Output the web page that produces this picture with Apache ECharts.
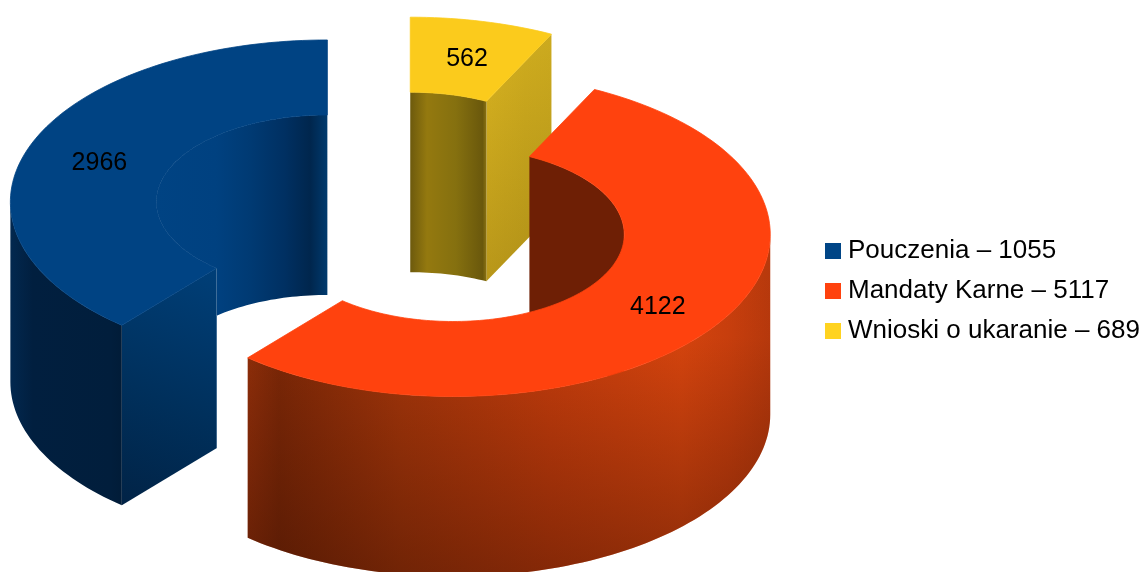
<!DOCTYPE html>
<html><head><meta charset="utf-8">
<style>html,body{margin:0;padding:0;background:#fff}#c{width:1145px;height:572px}</style>
<script src="https://cdn.jsdelivr.net/npm/echarts@6/dist/echarts.min.js"></script>
</head><body><div id="c"></div>
<script>
// Data
var names = ['Pouczenia', 'Mandaty Karne', 'Wnioski o ukaranie'];
var legendValues = [1055, 5117, 689];
var sliceValues = [2966, 4122, 562];
var topColors = ['#004383', '#ff420e', '#fbcb1c'];
var legendColors = ['#004586', '#ff420e', '#ffd320'];

// Projection of the exploded ring
var CX = 394, CY = 214.5, EXPLODE = 71;
var RX = 317, RY = 162, IX = 171, IY = 87, DEPTH = 180, TILT = RY / RX;
var total = sliceValues.reduce(function (a, b) { return a + b; }, 0);
var yellowSpan = sliceValues[2] / total * 360;
var orangeSpan = sliceValues[1] / total * 360;
var blueSpan = sliceValues[0] / total * 360;
// angles are clockwise from the top: yellow, orange, blue
var spans = [
  [yellowSpan + orangeSpan, yellowSpan + orangeSpan + blueSpan],
  [yellowSpan, yellowSpan + orangeSpan],
  [0, yellowSpan]
];
function rad(d) { return d * Math.PI / 180; }
function pt(c, rx, ry, a, dy) { return [c[0] + rx * Math.sin(rad(a)), c[1] - ry * Math.cos(rad(a)) + (dy || 0)]; }
function arc(c, rx, ry, a0, a1, dy) {
  var n = Math.max(2, Math.ceil(Math.abs(a1 - a0) / 1.5)), out = [];
  for (var i = 0; i <= n; i++) out.push(pt(c, rx, ry, a0 + (a1 - a0) * i / n, dy));
  return out;
}
function hGrad(stops) {
  return { type: 'linear', x: 0, y: 0, x2: 1, y2: 0, colorStops: stops.map(function (s) { return { offset: s[0], color: s[1] }; }) };
}
function vGrad(stops) {
  return { type: 'linear', x: 0, y: 0, x2: 0, y2: 1, colorStops: stops.map(function (s) { return { offset: s[0], color: s[1] }; }) };
}
function poly(points, fill) {
  return { type: 'polygon', shape: { points: points }, style: { fill: fill } };
}
function wall(c, rx, ry, a0, a1, fill) {
  return poly(arc(c, rx, ry, a0, a1).concat(arc(c, rx, ry, a1, a0, DEPTH)), fill);
}
function cut(c, a, fill) {
  var o = pt(c, RX, RY, a), i = pt(c, IX, IY, a);
  return poly([o, i, [i[0], i[1] + DEPTH], [o[0], o[1] + DEPTH]], fill);
}
function topFace(c, a0, a1, fill) {
  var p = poly(arc(c, RX, RY, a0, a1).concat(arc(c, IX, IY, a1, a0)), fill);
  p.style.stroke = fill;
  p.style.lineWidth = 0.8;
  return p;
}
function sliceRender(idx) {
  return function () {
    var a0 = spans[idx][0], a1 = spans[idx][1], mid = (a0 + a1) / 2;
    var c = [CX + EXPLODE * Math.sin(rad(mid)), CY - EXPLODE * TILT * Math.cos(rad(mid))];
    var ch = [];
    if (idx === 0) { // blue
      ch.push(wall(c, IX, IY, a0, 360, hGrad([[0, '#004383'], [0.35, '#004180'], [0.55, '#003a73'], [0.75, '#003062'], [0.9, '#00264d'], [1, '#003a6e']])));
      ch.push(cut(c, a0, { type: 'linear', x: 1, y: 0, x2: 0, y2: 1, colorStops: [{ offset: 0, color: '#003f78' }, { offset: 0.55, color: '#00305c' }, { offset: 1, color: '#012346' }] }));
      ch.push(wall(c, RX, RY, 270, a0, hGrad([[0, '#02284f'], [0.2, '#011f3f'], [0.9, '#011e3c'], [1, '#011c38']])));
    } else if (idx === 1) { // orange
      ch.push(wall(c, IX, IY, a0, 90, '#6e1f05'));
      ch.push(wall(c, RX, RY, 90, a1, hGrad([[0, '#922f0a'], [0.06, '#7e2807'], [0.29, '#a5360a'], [0.58, '#c63d0c'], [0.83, '#d8450e'], [0.92, '#ca3f0d'], [1, '#b8390c']])));
      ch.push(wall(c, RX, RY, 90, a1, vGrad([[0, 'rgba(40,10,0,0)'], [0.3, 'rgba(40,10,0,0.02)'], [1, 'rgba(40,10,0,0.42)']])));
    } else { // yellow
      ch.push(cut(c, a1, hGrad([[0, '#d8b320'], [0.6, '#cfac1e'], [1, '#ccaa1e']])));
      ch.push(cut(c, a1, vGrad([[0, 'rgba(60,40,0,0)'], [1, 'rgba(60,40,0,0.2)']])));
      ch.push(wall(c, IX, IY, a0, a1, hGrad([[0, '#6d5a0d'], [0.22, '#94790f'], [0.6, '#85700f'], [0.95, '#6a580c'], [1, '#8a7212']])));
    }
    ch.push(topFace(c, a0, a1, topColors[idx]));
    var lp = pt(c, (RX + IX) / 2, (RY + IY) / 2, mid);
    var nudge = idx === 2 ? 1.5 : 4.5;
    ch.push({
      type: 'text',
      style: { x: lp[0] + 1, y: lp[1] + nudge, text: String(sliceValues[idx]), fill: '#000', font: '25px "Liberation Sans", Arial, sans-serif', align: 'center', verticalAlign: 'middle' }
    });
    return { type: 'group', children: ch };
  };
}
// paint order: yellow at the back, then blue, then orange
var order = [2, 0, 1];
var chart = echarts.init(document.getElementById('c'), null, { renderer: 'canvas' });
chart.setOption({
  animation: false,
  backgroundColor: '#fff',
  legend: {
    left: 820, top: 232, orient: 'vertical', icon: 'rect', itemWidth: 16, itemHeight: 16, itemGap: 12, selectedMode: false,
    data: names.map(function (n, i) { return n + ' – ' + legendValues[i]; }),
    textStyle: { color: '#000', fontSize: 26, fontFamily: '"Liberation Sans", Arial, sans-serif', padding: [3, 0, 0, 2], lineHeight: 25 }
  },
  series: order.map(function (i, z) {
    return {
      type: 'custom', coordinateSystem: 'none', silent: true, z: z + 2,
      name: names[i] + ' – ' + legendValues[i],
      itemStyle: { color: legendColors[i] },
      data: [sliceValues[i]],
      renderItem: sliceRender(i)
    };
  })
});
</script></body></html>
